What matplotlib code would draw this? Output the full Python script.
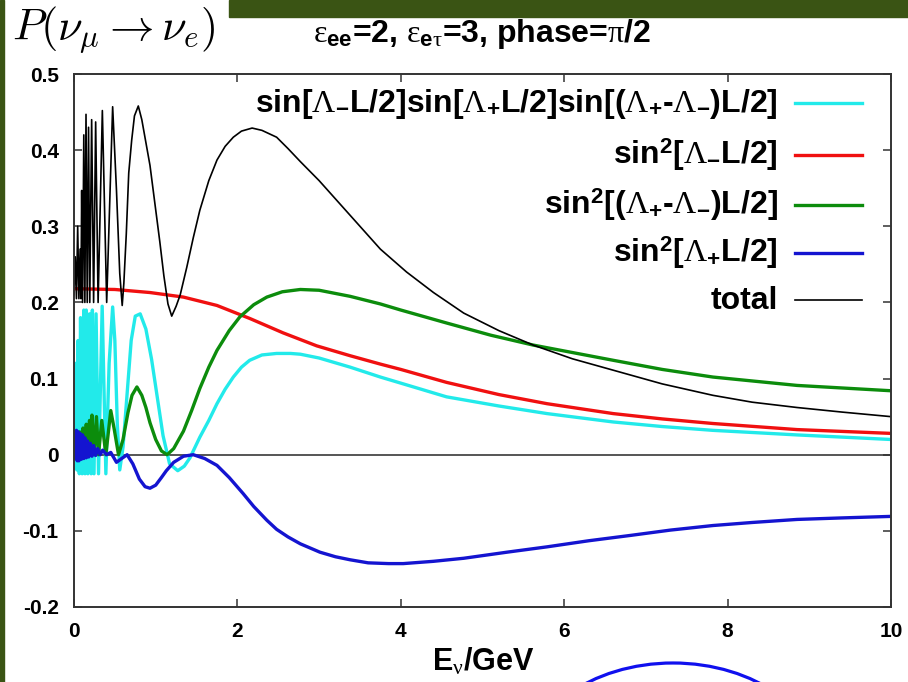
import matplotlib
matplotlib.use("Agg")
import matplotlib.pyplot as plt
from matplotlib.patches import Ellipse, Rectangle

# ---------------- data ----------------
E_total = [0.0, 0.015, 0.03, 0.045, 0.06, 0.075, 0.085, 0.094, 0.105, 0.12, 0.133, 0.147,
           0.162, 0.178, 0.193, 0.216, 0.24, 0.265, 0.295, 0.347, 0.40, 0.473, 0.52, 0.56,
           0.59, 0.61, 0.64, 0.67, 0.706, 0.74, 0.787, 0.83, 0.88, 0.93, 0.99, 1.05, 1.10,
           1.15, 1.196, 1.25, 1.30, 1.38, 1.46, 1.54, 1.65, 1.75, 1.85, 1.95, 2.05, 2.18,
           2.30, 2.48, 2.62, 2.77, 3.0, 3.25, 3.5, 3.75, 4.07, 4.4, 4.77, 5.2, 5.62, 6.1,
           6.6, 7.2, 7.82, 8.3, 8.85, 9.4, 10.0]
P_total = [0.21, 0.26, 0.205, 0.30, 0.205, 0.27, 0.205, 0.347, 0.20, 0.42, 0.20, 0.447,
           0.20, 0.43, 0.20, 0.44, 0.20, 0.437, 0.20, 0.452, 0.20, 0.457, 0.347, 0.238,
           0.196, 0.225, 0.29, 0.37, 0.413, 0.445, 0.458, 0.44, 0.41, 0.38, 0.33, 0.28, 0.235,
           0.198, 0.182, 0.195, 0.21, 0.246, 0.285, 0.321, 0.36, 0.387, 0.405, 0.417, 0.425, 0.429,
           0.426, 0.417, 0.402, 0.385, 0.36, 0.33, 0.30, 0.27, 0.24, 0.213, 0.186, 0.163, 0.144, 0.126,
           0.111, 0.093, 0.078, 0.069, 0.062, 0.056, 0.05]

E_cyan = [0.0, 0.02, 0.035, 0.05, 0.065, 0.08, 0.10, 0.12, 0.135, 0.15, 0.17, 0.19, 0.21,
          0.225, 0.245, 0.27, 0.30, 0.345, 0.39, 0.43, 0.473, 0.50, 0.53, 0.56, 0.60, 0.65,
          0.70, 0.75, 0.81, 0.88, 0.95, 1.02, 1.09, 1.17, 1.27, 1.35, 1.42, 1.54, 1.65, 1.75,
          1.85, 1.95, 2.05, 2.15, 2.30, 2.48, 2.65, 2.77, 3.0, 3.38, 3.75, 4.0, 4.56, 5.2,
          5.79, 6.6, 7.2, 7.82, 8.85, 10.0]
P_cyan = [0.0, 0.12, -0.02, 0.15, -0.025, 0.18, -0.025, 0.19, -0.025, 0.19, -0.025, 0.185, -0.025,
          0.19, -0.025, 0.185, -0.025, 0.195, -0.025, 0.12, 0.194, 0.15, 0.04, -0.02, 0.01, 0.08,
          0.15, 0.182, 0.185, 0.165, 0.125, 0.075, 0.025, -0.012, -0.021, -0.015, -0.004, 0.023, 0.045, 0.067,
          0.086, 0.102, 0.115, 0.124, 0.131, 0.133, 0.133, 0.132, 0.127, 0.115, 0.102, 0.094, 0.076, 0.064,
          0.054, 0.043, 0.037, 0.032, 0.026, 0.02]

E_red = [0.0, 0.5, 0.93, 1.34, 1.75, 2.15, 2.56, 2.97, 3.38, 3.75, 4.0, 4.56, 5.2, 5.79,
         6.6, 7.2, 7.82, 8.85, 10.0]
P_red = [0.218, 0.217, 0.213, 0.207, 0.196, 0.179, 0.160, 0.143, 0.130, 0.119, 0.112, 0.095,
         0.079, 0.067, 0.054, 0.047, 0.041, 0.033, 0.028]

E_green = [0.0, 0.03, 0.05, 0.07, 0.09, 0.11, 0.13, 0.15, 0.17, 0.19, 0.205, 0.22, 0.245,
           0.275, 0.30, 0.34, 0.39, 0.45, 0.49, 0.545, 0.60, 0.66, 0.71, 0.77, 0.83, 0.88,
           0.93, 1.0, 1.07, 1.14, 1.22, 1.34, 1.44, 1.54, 1.65, 1.75, 1.9, 2.03, 2.2, 2.36,
           2.55, 2.77, 3.0, 3.38, 3.75, 4.0, 4.56, 5.1, 5.62, 6.6, 7.2, 7.82, 8.85, 10.0]
P_green = [0.0, 0.02, 0.0, 0.03, 0.0, 0.035, 0.0, 0.04, 0.0, 0.045, 0.0, 0.052, 0.0,
           0.05, 0.0, 0.045, 0.0, 0.058, 0.035, 0.0, 0.02, 0.055, 0.078, 0.089, 0.078, 0.062,
           0.042, 0.02, 0.005, 0.0, 0.008, 0.031, 0.058, 0.087, 0.115, 0.137, 0.163, 0.181, 0.197, 0.207,
           0.214, 0.217, 0.216, 0.208, 0.198, 0.19, 0.173, 0.157, 0.144, 0.124, 0.112, 0.102, 0.091, 0.084]

E_blue = [0.0, 0.01, 0.02, 0.03, 0.04, 0.05, 0.06, 0.075, 0.09, 0.105, 0.12, 0.135, 0.15,
          0.165, 0.18, 0.20, 0.22, 0.24, 0.265, 0.29, 0.32, 0.35, 0.40, 0.45, 0.52, 0.57,
          0.65, 0.72, 0.80, 0.87, 0.93, 1.0, 1.07, 1.13, 1.22, 1.34, 1.46, 1.6, 1.75, 1.9,
          2.07, 2.2, 2.36, 2.48, 2.62, 2.77, 3.01, 3.2, 3.38, 3.6, 3.85, 4.03, 4.4, 4.77,
          5.3, 5.79, 6.3, 6.81, 7.3, 7.82, 8.3, 8.85, 9.4, 10.0]
P_blue = [0.0, 0.03, -0.005, 0.032, -0.008, 0.03, -0.008, 0.028, -0.006, 0.026, -0.005, 0.022, -0.004,
          0.018, -0.003, 0.015, -0.002, 0.012, -0.001, 0.008, 0.0, 0.006, 0.0, 0.003, -0.01, -0.006,
          0.0, -0.012, -0.032, -0.042, -0.044, -0.04, -0.03, -0.021, -0.01, -0.002, 0.0, -0.005, -0.014, -0.03,
          -0.051, -0.068, -0.086, -0.098, -0.108, -0.117, -0.128, -0.134, -0.138, -0.142, -0.143, -0.143, -0.14, -0.136,
          -0.128, -0.121, -0.113, -0.106, -0.099, -0.093, -0.089, -0.085, -0.083, -0.081]

x_ticks = [0, 2, 4, 6, 8, 10]
y_ticks = [-0.2, -0.1, 0, 0.1, 0.2, 0.3, 0.4, 0.5]
y_tick_labels = ["-0.2", "-0.1", "0", "0.1", "0.2", "0.3", "0.4", "0.5"]

labels = [
    r"sin[$\Lambda_{\mathbf{-}}$L/2]sin[$\Lambda_{\mathbf{+}}$L/2]sin[($\Lambda_{\mathbf{+}}$-$\Lambda_{\mathbf{-}}$)L/2]",
    r"sin$^{\mathbf{2}}$[$\Lambda_{\mathbf{-}}$L/2]",
    r"sin$^{\mathbf{2}}$[($\Lambda_{\mathbf{+}}$-$\Lambda_{\mathbf{-}}$)L/2]",
    r"sin$^{\mathbf{2}}$[$\Lambda_{\mathbf{+}}$L/2]",
    "total",
]
colors = ["#22eaea", "#f01010", "#0c8c0c", "#1414d0", "black"]
widths = [2.4, 2.4, 2.4, 2.4, 1.2]
series = [(E_cyan, P_cyan), (E_red, P_red), (E_green, P_green), (E_blue, P_blue), (E_total, P_total)]

# ---------------- style ----------------
plt.rcParams["mathtext.fontset"] = "custom"
plt.rcParams["mathtext.rm"] = "Liberation Serif"
plt.rcParams["mathtext.it"] = "Liberation Serif"
plt.rcParams["mathtext.bf"] = "Liberation Sans:bold"
plt.rcParams["font.family"] = ["Liberation Sans", "DejaVu Sans"]

W, H = 908, 682
fig = plt.figure(figsize=(W / 100, H / 100), dpi=100)
fig.patch.set_facecolor("white")

ax = fig.add_axes([74 / W, 1 - 607 / H, (891 - 74) / W, (607 - 74) / H])
ax.set_xlim(0, 10)
ax.set_ylim(-0.2, 0.5)

ax.axhline(0, color="#555555", lw=1.4, zorder=1)
for (ex, py), c, lw in zip(series, colors, widths):
    ax.plot(ex, py, color=c, lw=lw, zorder=2, solid_joinstyle="round")

ax.set_xticks(x_ticks)
ax.set_xticklabels([str(t) for t in x_ticks])
ax.set_yticks(y_ticks)
ax.set_yticklabels(y_tick_labels)
ax.tick_params(direction="in", length=6, width=1.1, top=True, right=True,
               labelsize=15, pad=11, color="#333333")
for lab in ax.get_xticklabels() + ax.get_yticklabels():
    lab.set_fontweight("bold")
for s in ax.spines.values():
    s.set_linewidth(1.4)
    s.set_color("#333333")

# legend drawn by hand (right-aligned text, sample on the right)
row_px = [103, 155, 205, 253, 300]
for lab, c, lw, ypx in zip(labels, colors, widths, row_px):
    yf = (607 - ypx) / 533
    ax.plot([0.8825, 0.9645], [yf, yf], transform=ax.transAxes, color=c, lw=lw, clip_on=False)
    ax.text(0.8617, (607 - ypx - 9) / 533, lab, transform=ax.transAxes, ha="right",
            va="baseline", fontsize=23, fontweight="bold")

# x label and title
fig.text(483 / W, 1 - 662 / H, r"E$_{\nu}$/GeV", ha="center", va="center",
         fontsize=22, fontweight="bold")
fig.text(482 / W, 1 - 42 / H,
         r"$\varepsilon_{\mathbf{ee}}$=2, $\varepsilon_{\mathbf{e}\tau}$=3, phase=$\pi$/2",
         ha="center", va="baseline", fontsize=23, fontweight="bold")

# slide decorations
green = "#3a5414"
fig.patches.append(Rectangle((0, 0), 4 / W, 1, transform=fig.transFigure, color=green, zorder=0))
fig.patches.append(Rectangle((229 / W, 1 - 17 / H), 1 - 229 / W, 17 / H, transform=fig.transFigure,
                             color=green, zorder=0))
fig.text(12 / W, 1 - 40 / H, r"$P(\nu_\mu \rightarrow \nu_e)$", ha="left", va="baseline",
         fontsize=32, math_fontfamily="cm")
fig.patches.append(Ellipse((673 / W, 1 - 773 / H), 300 / W, 220 / H, transform=fig.transFigure,
                           fill=False, edgecolor="#1010ee", lw=2.3, zorder=5))

fig.savefig("out.png", dpi=100)
